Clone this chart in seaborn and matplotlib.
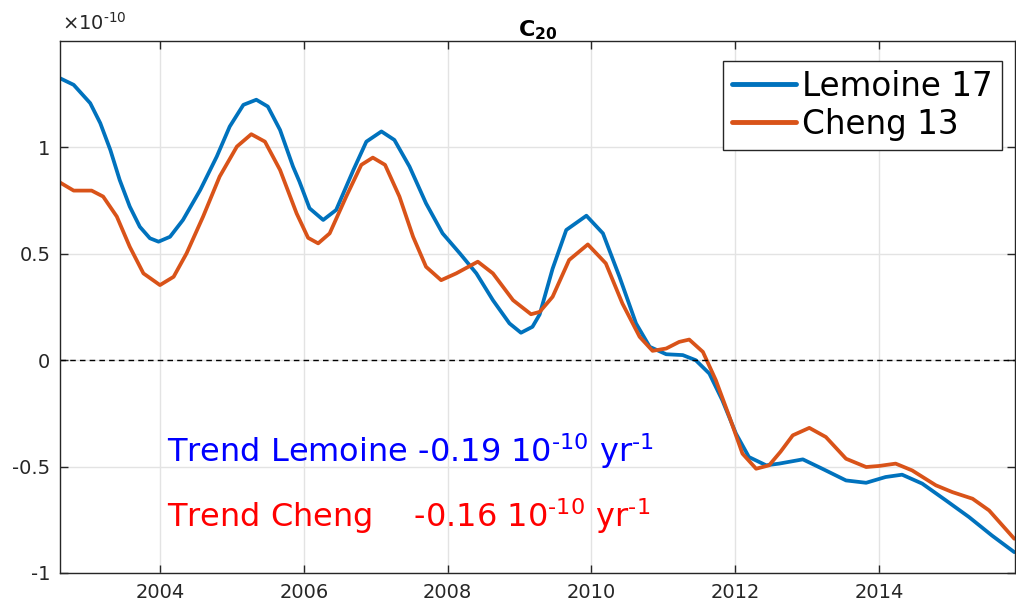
import matplotlib
matplotlib.use("Agg")
import matplotlib.pyplot as plt
import seaborn as sns
import pandas as pd

# C20 series, values in units of 1e-10
lemoine_year = [2002.61, 2002.80, 2003.03, 2003.17, 2003.31, 2003.44, 2003.58, 2003.72, 2003.86,
                2003.98, 2004.14, 2004.32, 2004.56, 2004.79, 2004.97, 2005.16, 2005.34, 2005.50,
                2005.67, 2005.85, 2005.94, 2006.08, 2006.27, 2006.45, 2006.69, 2006.87, 2007.08,
                2007.26, 2007.47, 2007.70, 2007.93, 2008.17, 2008.40, 2008.63, 2008.86, 2009.02,
                2009.18, 2009.28, 2009.46, 2009.65, 2009.93, 2010.16, 2010.39, 2010.62, 2010.81,
                2011.04, 2011.27, 2011.45, 2011.64, 2011.82, 2012.01, 2012.19, 2012.43, 2012.61,
                2012.94, 2013.21, 2013.54, 2013.82, 2014.09, 2014.32, 2014.60, 2014.93, 2015.25,
                2015.57, 2015.88]
lemoine_c20 = [1.325, 1.294, 1.208, 1.114, 0.988, 0.847, 0.722, 0.627, 0.573,
               0.557, 0.580, 0.659, 0.800, 0.957, 1.098, 1.200, 1.224, 1.192,
               1.082, 0.910, 0.839, 0.714, 0.659, 0.706, 0.894, 1.027, 1.075,
               1.035, 0.910, 0.737, 0.596, 0.502, 0.408, 0.282, 0.173, 0.129,
               0.157, 0.215, 0.430, 0.612, 0.679, 0.596, 0.392, 0.173, 0.063,
               0.028, 0.024, 0.000, -0.063, -0.188, -0.345, -0.455, -0.494, -0.486,
               -0.466, -0.510, -0.565, -0.576, -0.549, -0.538, -0.580, -0.659, -0.737,
               -0.824, -0.902]

cheng_year = [2002.61, 2002.80, 2003.05, 2003.21, 2003.40, 2003.58, 2003.77, 2004.00, 2004.19,
              2004.37, 2004.60, 2004.83, 2005.07, 2005.27, 2005.46, 2005.67, 2005.90, 2006.06,
              2006.20, 2006.36, 2006.59, 2006.80, 2006.96, 2007.13, 2007.33, 2007.52, 2007.70,
              2007.91, 2008.12, 2008.42, 2008.63, 2008.91, 2009.16, 2009.28, 2009.46, 2009.69,
              2009.95, 2010.20, 2010.43, 2010.67, 2010.85, 2011.04, 2011.22, 2011.36, 2011.55,
              2011.73, 2011.92, 2012.10, 2012.29, 2012.47, 2012.63, 2012.80, 2013.03, 2013.26,
              2013.54, 2013.82, 2014.00, 2014.23, 2014.46, 2014.79, 2015.02, 2015.30, 2015.53,
              2015.88]
cheng_c20 = [0.835, 0.797, 0.797, 0.769, 0.675, 0.533, 0.408, 0.353, 0.392,
             0.502, 0.675, 0.863, 1.004, 1.062, 1.027, 0.894, 0.690, 0.575,
             0.549, 0.596, 0.769, 0.918, 0.952, 0.918, 0.769, 0.580, 0.439,
             0.376, 0.408, 0.463, 0.408, 0.282, 0.216, 0.227, 0.298, 0.471,
             0.544, 0.455, 0.267, 0.110, 0.044, 0.055, 0.086, 0.097, 0.039,
             -0.094, -0.267, -0.439, -0.510, -0.494, -0.430, -0.353, -0.318, -0.361,
             -0.463, -0.502, -0.497, -0.486, -0.518, -0.588, -0.620, -0.651, -0.706,
             -0.839]

series_names = ["Lemoine 17", "Cheng 13"]
series_colors = ["#0072BD", "#D95319"]
trend_lemoine = -0.19
trend_cheng = -0.16

df = pd.concat([
    pd.DataFrame({"year": lemoine_year, "c20": lemoine_c20, "solution": series_names[0]}),
    pd.DataFrame({"year": cheng_year, "c20": cheng_c20, "solution": series_names[1]}),
])

sns.set_style("ticks")
plt.rcParams['font.family'] = ['DejaVu Sans']
plt.rcParams['mathtext.fontset'] = 'dejavusans'
plt.rcParams['axes.unicode_minus'] = False

dark = "#262626"
hy = "\u2010"  # plain hyphen inside mathtext superscripts
fig = plt.figure(figsize=(10.16, 6.06), dpi=100)
ax = fig.add_axes([60 / 1016, 33 / 606, 955 / 1016, 532 / 606])

sns.lineplot(data=df, x="year", y="c20", hue="solution", palette=series_colors,
             linewidth=2.7, sort=False, ax=ax, solid_joinstyle="round")
ax.axhline(0, color="black", linestyle=(0, (4, 3)), linewidth=1.0)

ax.set_xlim(2002.61, 2015.89)
ax.set_ylim(-1, 1.5)
ax.set_xticks([2004, 2006, 2008, 2010, 2012, 2014])
ax.set_yticks([-1, -0.5, 0, 0.5, 1])
ax.set_yticklabels(["-1", "-0.5", "0", "0.5", "1"])
ax.set_xlabel("")
ax.set_ylabel("")
ax.grid(True, color="#E3E3E3", linewidth=1.0)
ax.set_axisbelow(True)
ax.tick_params(direction="in", length=6, width=1, top=True, right=True,
               labelsize=14, colors=dark, pad=7)
for s in ax.spines.values():
    s.set_color(dark)
    s.set_linewidth(1.0)

ax.set_title(r"$\mathbf{C}_{\mathbf{20}}$", fontsize=16, color="black", pad=3)
fig.text(62 / 1016, 1 - 30 / 606, r"$\times10^{%s10}$" % hy, fontsize=14,
         color=dark, ha="left", va="baseline")

ax.text(2004.1, -0.48,
        r"Trend Lemoine %.2f 10$^{%s10}$ yr$^{%s1}$" % (trend_lemoine, hy, hy),
        color="#0000FF", fontsize=23, ha="left", va="baseline")
ax.text(2004.1, -0.786,
        r"Trend Cheng    %.2f 10$^{%s10}$ yr$^{%s1}$" % (trend_cheng, hy, hy),
        color="#FF0000", fontsize=23, ha="left", va="baseline")

leg = ax.legend(loc="upper right", bbox_to_anchor=(0.986, 0.963), borderaxespad=0,
                fontsize=23.5, frameon=True, fancybox=False, edgecolor=dark,
                framealpha=1, handlelength=1.95, handletextpad=0.18,
                borderpad=0.28, labelspacing=0.15, title=None)
leg.get_frame().set_linewidth(1.0)
for line in leg.get_lines():
    line.set_linewidth(3.5)
for t in leg.get_texts():
    t.set_color("black")

fig.savefig("out.png", dpi=100)
